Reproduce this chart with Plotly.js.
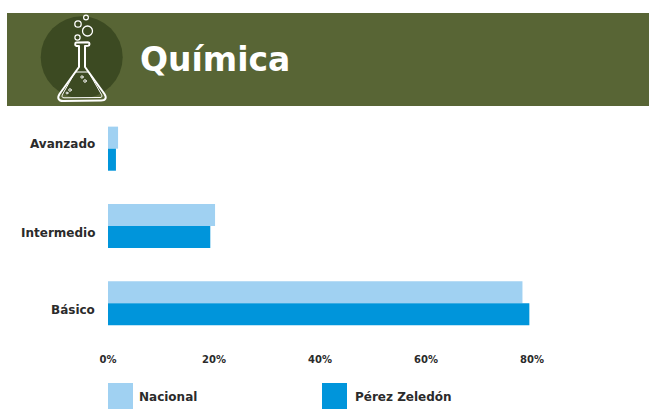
<!DOCTYPE html>
<html>
<head>
<meta charset="utf-8">
<script src="https://cdn.plot.ly/plotly-3.0.1.min.js"></script>
<style>html,body{margin:0;padding:0;background:#fff}#c{width:649px;height:413px}</style>
</head>
<body>
<div id="c"></div>
<script>
const categories = ["Avanzado", "Intermedio", "Básico"];
const nacional = [1.9, 20.2, 78.2];
const perezZeledon = [1.5, 19.3, 79.5];
const seriesNames = ["Nacional", "Pérez Zeledón"];
const tickVals = [0, 20, 40, 60, 80];
const tickText = ["0%", "20%", "40%", "60%", "80%"];

const W = 649, H = 413;
const m = {l: 108, r: 11, t: 110, b: 71};
const pw = W - m.l - m.r, ph = H - m.t - m.b;
const X = p => (p - m.l) / pw;
const Y = p => (H - m.b - p) / ph;

const FONT = "'DejaVu Sans', sans-serif";
const INK = "#2b2b2b";
const LIGHT = "#A0D1F2", BLUE = "#0095DB";

const flask = `<svg xmlns="http://www.w3.org/2000/svg" width="400" height="400" viewBox="0 0 100 100">
<circle cx="51.7" cy="47.3" r="41" fill="#3C4A22"/>
<g fill="none" stroke="#fff" stroke-width="2" stroke-linecap="round" stroke-linejoin="round">
<path d="M46.5 36 C44.5 35.5 45 32.5 46.5 32.5 L58 32.3 C60 32.5 60 35.6 58 35.8 L55 36 L55 57 L74.5 84 C77 88 75.5 90.5 71 90.5 L33 91 C28.5 91 27 88 29.5 84 L49 57 L49 36 Z"/>
<path d="M45.5 62 L58.5 62 L71.5 84.5 C72.5 86.5 71.8 87.5 70 87.5 L34 87.8 C32 87.8 31.5 86.5 32.5 84.5 Z" stroke-width="1"/>
<circle cx="48" cy="14" r="3.2" stroke-width="1.3"/>
<circle cx="57.5" cy="21" r="5" stroke-width="1.3"/>
<circle cx="56" cy="7.5" r="2.4" stroke-width="1.2"/>
<circle cx="47.5" cy="27.5" r="2.6" stroke-width="1.2"/>
<circle cx="52" cy="67" r="1.2" stroke-width="0.9"/>
<circle cx="55" cy="71" r="1.3" stroke-width="0.9"/>
<circle cx="40" cy="80" r="1.3" stroke-width="0.9"/>
<circle cx="37" cy="83" r="1" stroke-width="0.9"/>
</g></svg>`;

const traces = [
  {type: "bar", orientation: "h", name: seriesNames[0], y: categories, x: nacional,
   marker: {color: LIGHT, line: {width: 0}}},
  {type: "bar", orientation: "h", name: seriesNames[1], y: categories, x: perezZeledon,
   marker: {color: BLUE, line: {width: 0}}}
];

const rect = (x0, y0, x1, y1, color) => ({type: "rect", xref: "paper", yref: "paper",
  x0: X(x0), x1: X(x1), y0: Y(y1), y1: Y(y0), fillcolor: color, line: {width: 0}, layer: "below"});

const legendLabel = (text, x) => ({xref: "paper", yref: "paper", x: X(x), y: Y(396.5), text,
  showarrow: false, xanchor: "left", yanchor: "middle",
  font: {family: FONT, size: 12, weight: 700, color: INK}});

const layout = {
  width: W, height: H, margin: m, paper_bgcolor: "#fff", plot_bgcolor: "#fff",
  showlegend: false, barmode: "group", bargap: 0.43, bargroupgap: 0,
  font: {family: FONT, color: INK},
  title: {text: "Química", x: 140 / W, xref: "container", xanchor: "left",
          y: 1 - 59 / H, yref: "container", yanchor: "middle",
          font: {family: FONT, size: 33, weight: 700, color: "#fff"}},
  xaxis: {range: [0, 100], tickvals: tickVals, ticktext: tickText, showgrid: false, zeroline: false,
          showline: false, ticks: "", ticklabelstandoff: 10,
          tickfont: {family: FONT, size: 10, weight: 700, color: INK}},
  yaxis: {type: "category", categoryorder: "array", categoryarray: categories, autorange: "reversed",
          showgrid: false, zeroline: false, showline: false, ticks: "",
          showticklabels: false},
  shapes: [
    rect(7, 13, 649, 106, "#586535"),
    rect(108, 383, 133, 409, LIGHT),
    rect(322, 383, 347, 409, BLUE)
  ],
  images: [{source: "data:image/svg+xml;utf8," + encodeURIComponent(flask),
    xref: "paper", yref: "paper", x: X(30), y: Y(10), sizex: 100 / pw, sizey: 100 / ph,
    xanchor: "left", yanchor: "top", layer: "above", sizing: "stretch"}],
  annotations: [
    ...categories.map((c, i) => ({xref: "paper", yref: "y", x: X(97), y: c, text: c,
      showarrow: false, xanchor: "right", yanchor: "middle", yshift: i === 0 ? 4.5 : -6.5,
      font: {family: FONT, size: 12, weight: 700, color: INK}})),
    legendLabel(seriesNames[0], 137),
    legendLabel(seriesNames[1], 353)
  ]
};
Plotly.newPlot("c", traces, layout, {displayModeBar: false, staticPlot: true});
</script>
</body>
</html>
